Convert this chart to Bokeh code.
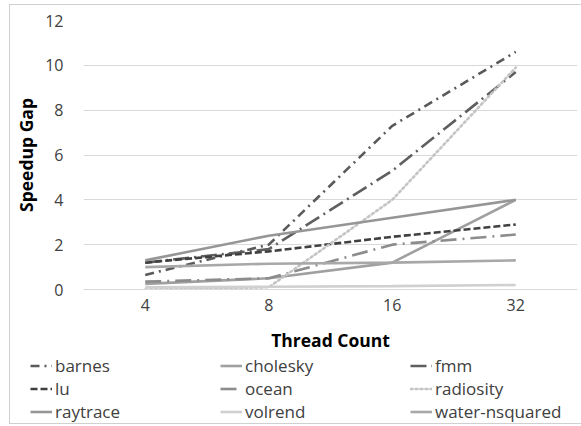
from bokeh.plotting import figure
from bokeh.layouts import column, row
from bokeh.models import FactorRange, Legend, LegendItem, SingleIntervalTicker, Range1d
from bokeh.embed import file_html
from bokeh.resources import INLINE

threads = ["4", "8", "16", "32"]
barnes = [0.65, 2.0, 7.3, 10.6]
cholesky = [0.25, 0.5, 1.2, 4.0]
fmm = [1.2, 1.8, 5.3, 9.7]
lu = [1.2, 1.7, 2.35, 2.9]
ocean = [0.35, 0.5, 2.0, 2.45]
radiosity = [0.0, 0.1, 4.0, 9.9]
raytrace = [1.3, 2.4, 3.2, 4.0]
volrend = [0.1, 0.12, 0.15, 0.2]
water_nsquared = [1.0, 1.15, 1.2, 1.3]

names = ["barnes", "cholesky", "fmm", "lu", "ocean", "radiosity", "raytrace", "volrend", "water-nsquared"]
series = [barnes, cholesky, fmm, lu, ocean, radiosity, raytrace, volrend, water_nsquared]
styles = [
    ("#5a5a5a", "9 5 2 5"),
    ("#a0a0a0", "solid"),
    ("#5f5f5f", "16 5 2 5"),
    ("#404040", "7 3"),
    ("#8c8c8c", "16 6 2 6"),
    ("#c4c4c4", "2 3"),
    ("#969696", "solid"),
    ("#d0d0d0", "solid"),
    ("#a8a8a8", "solid"),
]

FONT = "Open Sans"

p = figure(width=572, height=349, x_range=FactorRange(*threads), y_range=(0, 12),
           output_backend="svg", toolbar_location=None,
           min_border_left=73, min_border_right=5, min_border_top=15, min_border_bottom=65)
p.outline_line_color = None
p.background_fill_color = "white"
p.border_fill_color = "white"

p.x_range.range_padding = 0
p.x_range.factor_padding = 0

p.yaxis.ticker = SingleIntervalTicker(interval=2)
p.ygrid.grid_line_color = "#d9d9d9"
p.ygrid.grid_line_width = 1
p.xgrid.grid_line_color = None

for ax in (p.xaxis[0], p.yaxis[0]):
    ax.major_tick_line_color = None
    ax.minor_tick_line_color = None
    ax.major_label_text_font = FONT
    ax.major_label_text_font_size = "16px"
    ax.major_label_text_color = "#404040"
    ax.axis_label_text_font = FONT
    ax.axis_label_text_font_size = "17.5px"
    ax.axis_label_text_font_style = "bold"
    ax.axis_label_text_color = "#000000"

p.yaxis.axis_line_color = None
p.xaxis.axis_line_color = "#d9d9d9"
p.yaxis.axis_label = "Speedup Gap"
p.xaxis.axis_label = "Thread Count"
p.yaxis.major_label_standoff = 14
p.yaxis.axis_label_standoff = 4
p.xaxis.major_label_standoff = 3
p.xaxis.axis_label_standoff = 14

for name, vals, (col, dash) in zip(names, series, styles):
    p.line(threads, vals, line_color=col, line_width=2.6, line_dash=dash,
           line_cap="round" if dash == "2 3" else "butt")

# legend panel below the chart; its lines carry the same data but lie outside its
# (empty) y-range, so only the legend entries are visible
q = figure(width=572, height=69, x_range=FactorRange(*threads), y_range=Range1d(100, 101),
           output_backend="svg", toolbar_location=None,
           x_axis_location=None, y_axis_location=None,
           min_border_left=0, min_border_right=0, min_border_top=0, min_border_bottom=0)
q.grid.visible = False
q.outline_line_color = None
q.background_fill_color = "white"
q.border_fill_color = "white"

items = []
for name, vals, (col, dash) in zip(names, series, styles):
    r = q.line(threads, vals, line_color=col, line_width=2.6, line_dash=dash,
               line_cap="round" if dash == "2 3" else "butt")
    items.append(LegendItem(label=name, renderers=[r]))

order = [0, 3, 6, 1, 4, 7, 2, 5, 8]
legend = Legend(items=[items[i] for i in order], orientation="vertical", nrows=3,
                location=(20, 0), glyph_width=22, glyph_height=23,
                label_height=23, label_width=165, label_standoff=3, spacing=0,
                padding=0, margin=0, border_line_color=None,
                background_fill_alpha=0,
                label_text_font=FONT, label_text_font_size="17px",
                label_text_color="#404040")
q.add_layout(legend, "center")

layout = column(p, row(q, spacing=0), margin=(5, 0, 0, 10), spacing=0,
                styles={"outline": "1.5px solid #d0d0d0"})

open("out.html", "w").write(file_html(layout, INLINE))
